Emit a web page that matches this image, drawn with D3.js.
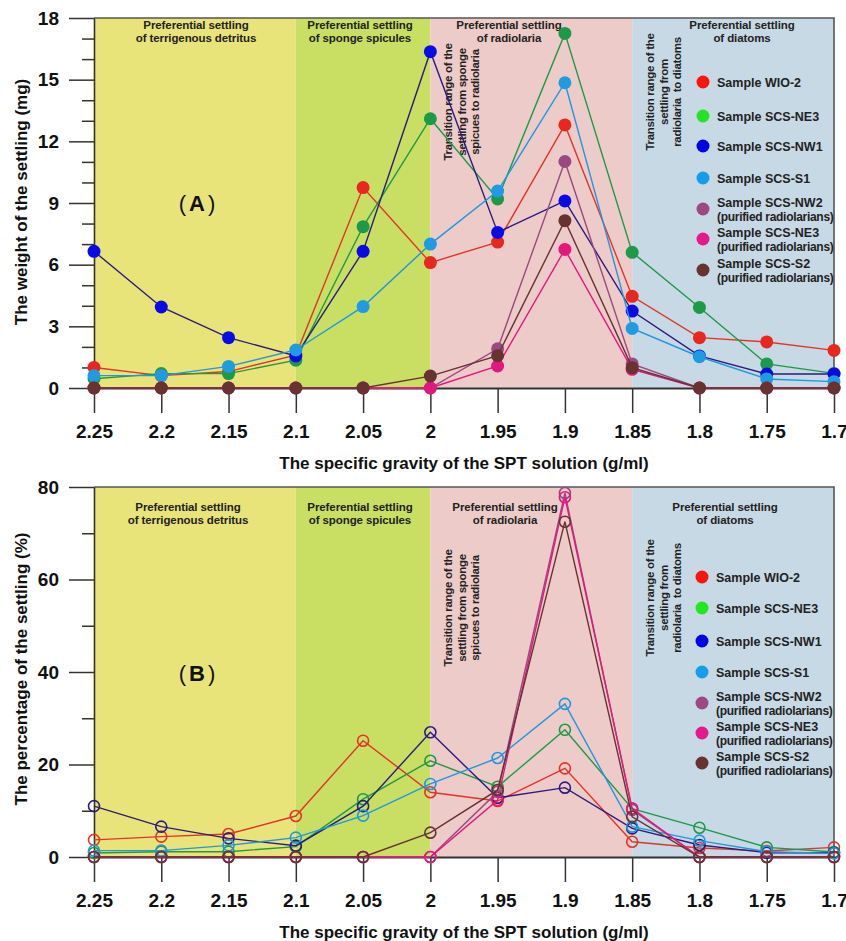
<!DOCTYPE html>
<html>
<head>
<meta charset="utf-8">
<script src="https://cdn.jsdelivr.net/npm/d3@7"></script>
<style>
  body { margin: 0; background: #fff; }
  svg { display: block; font-family: "Liberation Sans", Arial, sans-serif; font-weight: bold; }
</style>
</head>
<body>
<svg width="846" height="941"></svg>
<script>
// specific gravity steps of the SPT solution
var gravity = [2.25, 2.2, 2.15, 2.1, 2.05, 2.0, 1.95, 1.9, 1.85, 1.8, 1.75, 1.7];
var gravityLabels = ["2.25", "2.2", "2.15", "2.1", "2.05", "2", "1.95", "1.9", "1.85", "1.8", "1.75", "1.7"];

// series names (legend)
var sampleNames = ["Sample WIO-2", "Sample SCS-NE3", "Sample SCS-NW1", "Sample SCS-S1",
  "Sample SCS-NW2", "Sample SCS-NE3", "Sample SCS-S2"];
var sampleNotes = ["", "", "", "", "(purified radiolarians)", "(purified radiolarians)", "(purified radiolarians)"];

// (A) weight of the settling, mg
var wWIO2   = [1.0, 0.6, 0.8, 1.6, 9.75, 6.1, 7.1, 12.8, 4.46, 2.45, 2.24, 1.83];
var wNE3    = [0.45, 0.7, 0.7, 1.35, 7.85, 13.1, 9.2, 17.25, 6.6, 3.92, 1.17, 0.71];
var wNW1    = [6.65, 3.94, 2.45, 1.56, 6.65, 16.36, 7.57, 9.1, 3.74, 1.56, 0.68, 0.68];
var wS1     = [0.6, 0.6, 1.05, 1.85, 3.96, 7.0, 9.58, 14.85, 2.9, 1.52, 0.44, 0.31];
var wNW2    = [0, 0, 0, 0, 0, 0, 1.91, 11.02, 1.17, 0, 0, 0];
var wNE3p   = [0, 0, 0, 0, 0, 0, 1.07, 6.74, 0.91, 0, 0, 0];
var wS2     = [0, 0, 0, 0, 0, 0.58, 1.57, 8.14, 0.99, 0, 0, 0];

// (B) percentage of the settling, %
var pWIO2   = [3.7, 4.4, 4.97, 8.86, 25.15, 14.0, 12.1, 19.17, 3.3, 1.95, 1.3, 2.09];
var pNE3    = [0.86, 1.15, 1.15, 2.23, 12.5, 20.8, 15.2, 27.5, 10.45, 6.34, 2.09, 1.08];
var pNW1    = [11.0, 6.56, 4.03, 2.45, 11.0, 26.96, 12.8, 14.99, 6.2, 2.6, 0.93, 0.93];
var pS1     = [1.37, 1.37, 2.52, 4.18, 8.94, 15.8, 21.4, 33.1, 6.56, 3.53, 1.15, 0.79];
var pNW2    = [0, 0, 0, 0, 0, 0, 14.1, 78.7, 10.2, 0, 0, 0];
var pNE3p   = [0, 0, 0, 0, 0, 0, 12.3, 77.8, 10.5, 0, 0, 0];
var pS2     = [0, 0, 0, 0, 0, 5.26, 14.5, 72.5, 8.7, 0, 0, 0];

// shaded gravity ranges
var rangeEdges = [2.25, 2.1, 2.0, 1.85, 1.7];
var rangeColors = ["#e9e47a", "#c8df64", "#edcbc8", "#c7d9e4"];
var rangeTitles = [
  ["Preferential settling", "of terrigenous detritus"],
  ["Preferential settling", "of sponge spicules"],
  ["Preferential settling", "of radiolaria"],
  ["Preferential settling", "of diatoms"]
];

var lineColors   = ["#e2352a", "#1d9a48", "#2b1b7e", "#1f98df", "#9a4a80", "#e3187f", "#663331"];
var markerColors = ["#e8281e", "#1d9a48", "#0a0ae6", "#1f9be2", "#9a4a80", "#e3187f", "#663331"];
var legendColors = ["#ff1212", "#22e622", "#0000e6", "#1a9be6", "#9a4a80", "#e6198a", "#663331"];

var svg = d3.select("svg");
var left = 94, right = 834;

var x = d3.scaleLinear().domain([2.25, 1.7]).range([left, right]);

function drawPanel(p) {
  var g = svg.append("g");
  var y = d3.scaleLinear().domain([0, p.yMax]).range([p.bottom, p.top]);

  // achtergrond vlakken
  g.selectAll("rect.band")
    .data(rangeColors)
    .enter().append("rect")
    .attr("x", function(d, i) { return x(rangeEdges[i]); })
    .attr("y", p.top)
    .attr("width", function(d, i) { return x(rangeEdges[i + 1]) - x(rangeEdges[i]); })
    .attr("height", p.bottom - p.top)
    .attr("fill", function(d) { return d; });

  // titels van de vlakken
  rangeTitles.forEach(function(t, i) {
    var tx = g.append("text")
      .attr("x", p.titleX[i])
      .attr("y", p.top + p.titleDy)
      .attr("text-anchor", "middle")
      .attr("font-size", 11.5)
      .attr("letter-spacing", -0.1)
      .attr("fill", "#222");
    tx.append("tspan").attr("x", p.titleX[i]).text(t[0]);
    tx.append("tspan").attr("x", p.titleX[i]).attr("dy", 13).text(t[1]);
  });

  // verticale overgangsteksten
  [["Transition range of the", "settling from sponge", "spicues to radiolaria"],
   ["Transition range of the", "settling from", "radiolaria  to diatoms"]].forEach(function(lines, k) {
    var cx = p.transX[k], cy = p.top + p.transDy[k];
    var t = g.append("text")
      .attr("transform", "translate(" + cx + "," + cy + ") rotate(-90)")
      .attr("text-anchor", "middle")
      .attr("font-size", 11.5)
      .attr("letter-spacing", -0.3)
      .attr("fill", "#222")
      .style("white-space", "pre");
    lines.forEach(function(l, j) {
      t.append("tspan").attr("x", 0).attr("y", j * 13.5).text(l);
    });
  });

  // kader
  g.append("path")
    .attr("d", "M" + left + "," + p.top + "H" + right + "V" + p.bottom)
    .attr("fill", "none").attr("stroke", "#555").attr("stroke-width", 1.6);

  // assen
  var yMinor = d3.range(0, p.yMax + 1, p.minorStep).filter(function(v) { return v % p.majorStep !== 0; });
  g.append("g")
    .attr("transform", "translate(" + left + ",0)")
    .call(d3.axisLeft(y).tickValues(yMinor).tickSize(12).tickSizeOuter(0).tickFormat(""))
    .call(function(a) { a.select(".domain").remove(); a.selectAll("line").attr("stroke", "#333").attr("stroke-width", 1.5); });

  g.append("g")
    .attr("transform", "translate(" + left + ",0)")
    .call(d3.axisLeft(y).tickValues(d3.range(0, p.yMax + 1, p.majorStep)).tickSize(25).tickSizeOuter(0).tickPadding(10))
    .call(function(a) {
      a.select(".domain").attr("stroke", "#333").attr("stroke-width", 1.6);
      a.selectAll("line").attr("stroke", "#333").attr("stroke-width", 1.5);
      a.selectAll("text").attr("font-size", 19).attr("font-weight", "bold").attr("fill", "#111")
        .attr("font-family", "Liberation Sans, Arial, sans-serif");
    });

  g.append("g")
    .attr("transform", "translate(0," + p.bottom + ")")
    .call(d3.axisBottom(x).tickValues(gravity).tickSize(25).tickSizeOuter(0).tickPadding(12)
      .tickFormat(function(d, i) { return gravityLabels[i]; }))
    .call(function(a) {
      a.select(".domain").attr("stroke", "#333").attr("stroke-width", 1.8);
      a.selectAll("line").attr("stroke", "#333").attr("stroke-width", 1.5);
      a.selectAll("text").attr("font-size", 19).attr("font-weight", "bold").attr("fill", "#111")
        .attr("font-family", "Liberation Sans, Arial, sans-serif");
    });

  // as titels
  g.append("text")
    .attr("x", 464).attr("y", p.bottom + 81)
    .attr("text-anchor", "middle").attr("font-size", 17).attr("fill", "#111")
    .text("The specific gravity of the SPT solution (g/ml)");

  g.append("text")
    .attr("transform", "translate(27," + p.yTitleY + ") rotate(-90)")
    .attr("text-anchor", "middle").attr("font-size", 17).attr("fill", "#111")
    .text(p.yTitle);

  // paneel label
  var lab = g.append("text")
    .attr("x", 197).attr("y", p.labelY)
    .attr("text-anchor", "middle").attr("font-size", 22).attr("fill", "#111");
  lab.append("tspan").attr("font-weight", "normal").text("(");
  lab.append("tspan").attr("dx", 3).text(p.label);
  lab.append("tspan").attr("dx", 3).attr("font-weight", "normal").text(")");

  // lijnen en punten
  var line = d3.line()
    .x(function(d, i) { return x(gravity[i]); })
    .y(function(d) { return y(d); });

  p.series.forEach(function(vals, s) {
    var sg = g.append("g");
    sg.append("path")
      .datum(vals)
      .attr("d", line)
      .attr("fill", "none")
      .attr("stroke", lineColors[s])
      .attr("stroke-width", 1.4);
    sg.selectAll("circle")
      .data(vals)
      .enter().append("circle")
      .attr("cx", function(d, i) { return x(gravity[i]); })
      .attr("cy", function(d) { return y(d); })
      .attr("r", p.filled ? 6.5 : 5.5)
      .attr("fill", p.filled ? markerColors[s] : "none")
      .attr("stroke", p.filled ? "none" : lineColors[s])
      .attr("stroke-width", 1.6);
  });

  // legenda
  var legend = g.append("g")
    .selectAll("g")
    .data(sampleNames)
    .enter().append("g")
    .attr("transform", function(d, i) { return "translate(" + p.legendX + "," + (p.top + p.legendDy[i]) + ")"; });

  legend.append("circle")
    .attr("r", 6.5)
    .attr("fill", function(d, i) { return legendColors[i]; });

  legend.append("text")
    .attr("x", 14)
    .attr("y", function(d, i) { return sampleNotes[i] ? -2 : 4.5; })
    .attr("font-size", 12.5)
    .attr("fill", "#222")
    .text(function(d) { return d; });

  legend.append("text")
    .attr("x", 14)
    .attr("y", 11.5)
    .attr("font-size", 12)
    .attr("letter-spacing", -0.3)
    .attr("fill", "#222")
    .text(function(d, i) { return sampleNotes[i]; });
}

drawPanel({
  top: 18, bottom: 388, yMax: 18, majorStep: 3, minorStep: 1,
  series: [wWIO2, wNE3, wNW1, wS1, wNW2, wNE3p, wS2],
  filled: true,
  titleX: [196, 360, 509, 742], titleDy: 11,
  transX: [452, 654], transDy: [84, 74],
  legendX: 703, legendDy: [64, 98, 128, 160, 191, 221, 252],
  yTitle: "The weight of the settling (mg)", yTitleY: 202,
  label: "A", labelY: 211
});

drawPanel({
  top: 487, bottom: 857, yMax: 80, majorStep: 20, minorStep: 10,
  series: [pWIO2, pNE3, pNW1, pS1, pNW2, pNE3p, pS2],
  filled: false,
  titleX: [188, 360, 505, 725], titleDy: 24,
  transX: [452, 654], transDy: [121, 111],
  legendX: 702, legendDy: [90, 121, 154, 185, 216, 246, 276],
  yTitle: "The percentage of the settling (%)", yTitleY: 669,
  label: "B", labelY: 681
});
</script>
</body>
</html>
